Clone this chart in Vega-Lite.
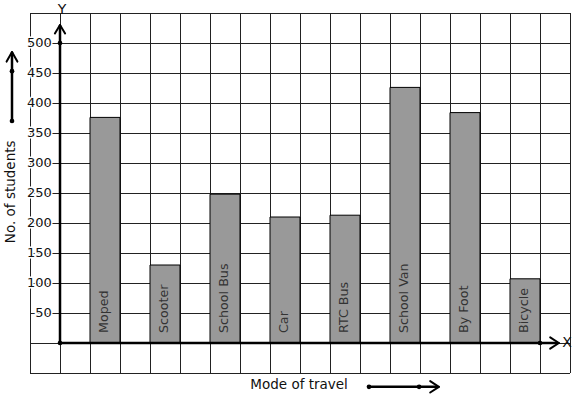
{
  "$schema": "https://vega.github.io/schema/vega-lite/v6.json",
  "width": 540,
  "height": 360,
  "autosize": "none",
  "padding": {"left": 30, "top": 13, "right": 7, "bottom": 26},
  "background": "white",
  "config": {"view": {"stroke": null}, "font": "DejaVu Sans", "text": {"font": "DejaVu Sans"}, "axis": {"disable": true}},
  "datasets": {
    "bars": [
      {"mode": "Moped", "start": 1, "end": 2, "students": 376},
      {"mode": "Scooter", "start": 3, "end": 4, "students": 130},
      {"mode": "School Bus", "start": 5, "end": 6, "students": 248},
      {"mode": "Car", "start": 7, "end": 8, "students": 210},
      {"mode": "RTC Bus", "start": 9, "end": 10, "students": 213},
      {"mode": "School Van", "start": 11, "end": 12, "students": 426},
      {"mode": "By Foot", "start": 13, "end": 14, "students": 384},
      {"mode": "Bicycle", "start": 15, "end": 16, "students": 107}
    ],
    "ticks": [{"v": 50}, {"v": 100}, {"v": 150}, {"v": 200}, {"v": 250}, {"v": 300}, {"v": 350}, {"v": 400}, {"v": 450}, {"v": 500}],
    "gx": [{"g": -1}, {"g": 0}, {"g": 1}, {"g": 2}, {"g": 3}, {"g": 4}, {"g": 5}, {"g": 6}, {"g": 7}, {"g": 8}, {"g": 9}, {"g": 10}, {"g": 11}, {"g": 12}, {"g": 13}, {"g": 14}, {"g": 15}, {"g": 16}, {"g": 17}],
    "gy": [{"g": -50}, {"g": 0}, {"g": 50}, {"g": 100}, {"g": 150}, {"g": 200}, {"g": 250}, {"g": 300}, {"g": 350}, {"g": 400}, {"g": 450}, {"g": 500}, {"g": 550}],
    "one": [{}]
  },
  "layer": [
    {
      "data": {"name": "gx"},
      "mark": {"type": "rule", "color": "#222222", "strokeWidth": 1, "xOffset": 0.5},
      "encoding": {
        "x": {"field": "g", "type": "quantitative", "scale": {"domain": [-1, 17], "nice": false, "zero": false}, "axis": null},
        "y": {"datum": -50, "type": "quantitative", "scale": {"domain": [-50, 550], "nice": false, "zero": false}, "axis": null},
        "y2": {"datum": 550}
      }
    },
    {
      "data": {"name": "gy"},
      "mark": {"type": "rule", "color": "#222222", "strokeWidth": 1, "yOffset": 0.5},
      "encoding": {
        "y": {"field": "g", "type": "quantitative"},
        "x": {"datum": -1, "type": "quantitative"},
        "x2": {"datum": 17}
      }
    },
    {
      "data": {"name": "bars"},
      "mark": {"type": "rect", "fill": "#999999", "stroke": "#000000", "strokeWidth": 1},
      "encoding": {
        "x": {"field": "start", "type": "quantitative"},
        "x2": {"field": "end"},
        "y": {"field": "students", "type": "quantitative"},
        "y2": {"datum": 0}
      }
    },
    {
      "data": {"name": "bars"},
      "mark": {"type": "text", "angle": 270, "align": "left", "baseline": "middle", "xOffset": 14, "yOffset": -10, "fontSize": 12.7, "color": "#333333"},
      "encoding": {
        "x": {"field": "start", "type": "quantitative"},
        "y": {"datum": 0, "type": "quantitative"},
        "text": {"field": "mode"}
      }
    },
    {
      "data": {"name": "ticks"},
      "mark": {"type": "text", "align": "right", "baseline": "middle", "fontSize": 13, "stroke": "white", "strokeWidth": 3, "color": "white"},
      "encoding": {
        "x": {"datum": -0.27, "type": "quantitative"},
        "y": {"field": "v", "type": "quantitative"},
        "text": {"field": "v"}
      }
    },
    {
      "data": {"name": "ticks"},
      "mark": {"type": "text", "align": "right", "baseline": "middle", "fontSize": 13, "color": "#111111"},
      "encoding": {
        "x": {"datum": -0.27, "type": "quantitative"},
        "y": {"field": "v", "type": "quantitative"},
        "text": {"field": "v"}
      }
    },
    {
      "data": {"name": "one"},
      "mark": {"type": "rule", "color": "black", "strokeWidth": 2.5},
      "encoding": {"x": {"datum": 0, "type": "quantitative"}, "y": {"datum": 0, "type": "quantitative"}, "y2": {"datum": 530}}
    },
    {
      "data": {"name": "one"},
      "mark": {"type": "rule", "color": "black", "strokeWidth": 2.5},
      "encoding": {"x": {"datum": 0, "type": "quantitative"}, "x2": {"datum": 16.6}, "y": {"datum": 0, "type": "quantitative"}}
    },
    {
      "data": {"name": "one"},
      "mark": {"type": "rule", "color": "black", "strokeWidth": 2, "strokeCap": "round"},
      "encoding": {"x": {"datum": 0, "type": "quantitative"}, "y": {"datum": 530, "type": "quantitative"}, "x2": {"datum": -0.17}, "y2": {"datum": 516}}
    },
    {
      "data": {"name": "one"},
      "mark": {"type": "rule", "color": "black", "strokeWidth": 2, "strokeCap": "round"},
      "encoding": {"x": {"datum": 0, "type": "quantitative"}, "y": {"datum": 530, "type": "quantitative"}, "x2": {"datum": 0.17}, "y2": {"datum": 516}}
    },
    {
      "data": {"name": "one"},
      "mark": {"type": "rule", "color": "black", "strokeWidth": 2, "strokeCap": "round"},
      "encoding": {"x": {"datum": 16.63, "type": "quantitative"}, "y": {"datum": 0, "type": "quantitative"}, "x2": {"datum": 16.34}, "y2": {"datum": 9.5}}
    },
    {
      "data": {"name": "one"},
      "mark": {"type": "rule", "color": "black", "strokeWidth": 2, "strokeCap": "round"},
      "encoding": {"x": {"datum": 16.63, "type": "quantitative"}, "y": {"datum": 0, "type": "quantitative"}, "x2": {"datum": 16.34}, "y2": {"datum": -9.5}}
    },
    {
      "data": {"name": "one"},
      "mark": {"type": "point", "shape": "circle", "filled": true, "color": "black", "size": 22, "opacity": 1},
      "encoding": {"x": {"datum": 0, "type": "quantitative"}, "y": {"datum": 0, "type": "quantitative"}}
    },
    {
      "data": {"name": "one"},
      "mark": {"type": "point", "shape": "circle", "filled": true, "color": "black", "size": 22, "opacity": 1},
      "encoding": {"x": {"datum": 0, "type": "quantitative"}, "y": {"datum": 500, "type": "quantitative"}}
    },
    {
      "data": {"name": "one"},
      "mark": {"type": "point", "shape": "circle", "filled": true, "color": "black", "size": 22, "opacity": 1},
      "encoding": {"x": {"datum": 16, "type": "quantitative"}, "y": {"datum": 0, "type": "quantitative"}}
    },
    {
      "data": {"name": "one"},
      "mark": {"type": "text", "fontSize": 14, "color": "#111111", "align": "center", "baseline": "middle"},
      "encoding": {"x": {"datum": 0.07, "type": "quantitative"}, "y": {"datum": 555, "type": "quantitative"}, "text": {"value": "Y"}}
    },
    {
      "data": {"name": "one"},
      "mark": {"type": "text", "fontSize": 14, "color": "#111111", "align": "center", "baseline": "middle"},
      "encoding": {"x": {"datum": 16.9, "type": "quantitative"}, "y": {"datum": 0, "type": "quantitative"}, "text": {"value": "X"}}
    },
    {
      "data": {"name": "one"},
      "mark": {"type": "rule", "color": "black", "strokeWidth": 2.5},
      "encoding": {"x": {"datum": -1.6, "type": "quantitative"}, "y": {"datum": 370, "type": "quantitative"}, "y2": {"datum": 485}}
    },
    {
      "data": {"name": "one"},
      "mark": {"type": "rule", "color": "black", "strokeWidth": 2, "strokeCap": "round"},
      "encoding": {"x": {"datum": -1.6, "type": "quantitative"}, "y": {"datum": 485, "type": "quantitative"}, "x2": {"datum": -1.78}, "y2": {"datum": 469}}
    },
    {
      "data": {"name": "one"},
      "mark": {"type": "rule", "color": "black", "strokeWidth": 2, "strokeCap": "round"},
      "encoding": {"x": {"datum": -1.6, "type": "quantitative"}, "y": {"datum": 485, "type": "quantitative"}, "x2": {"datum": -1.42}, "y2": {"datum": 469}}
    },
    {
      "data": {"name": "one"},
      "mark": {"type": "point", "shape": "circle", "filled": true, "color": "black", "size": 22, "opacity": 1},
      "encoding": {"x": {"datum": -1.6, "type": "quantitative"}, "y": {"datum": 370, "type": "quantitative"}}
    },
    {
      "data": {"name": "one"},
      "mark": {"type": "point", "shape": "circle", "filled": true, "color": "black", "size": 22, "opacity": 1},
      "encoding": {"x": {"datum": -1.6, "type": "quantitative"}, "y": {"datum": 453, "type": "quantitative"}}
    },
    {
      "data": {"name": "one"},
      "mark": {"type": "text", "fontSize": 13.5, "color": "#111111", "angle": 270, "align": "center", "baseline": "middle"},
      "encoding": {"x": {"datum": -1.63, "type": "quantitative"}, "y": {"datum": 252, "type": "quantitative"}, "text": {"value": "No. of students"}}
    },
    {
      "data": {"name": "one"},
      "mark": {"type": "text", "fontSize": 13.5, "color": "#111111", "align": "center", "baseline": "middle"},
      "encoding": {"x": {"datum": 7.97, "type": "quantitative"}, "y": {"datum": -70, "type": "quantitative"}, "text": {"value": "Mode of travel"}}
    },
    {
      "data": {"name": "one"},
      "mark": {"type": "rule", "color": "black", "strokeWidth": 2.5},
      "encoding": {"x": {"datum": 10.3, "type": "quantitative"}, "x2": {"datum": 12.6}, "y": {"datum": -73, "type": "quantitative"}}
    },
    {
      "data": {"name": "one"},
      "mark": {"type": "rule", "color": "black", "strokeWidth": 2, "strokeCap": "round"},
      "encoding": {"x": {"datum": 12.63, "type": "quantitative"}, "y": {"datum": -73, "type": "quantitative"}, "x2": {"datum": 12.34}, "y2": {"datum": -63.5}}
    },
    {
      "data": {"name": "one"},
      "mark": {"type": "rule", "color": "black", "strokeWidth": 2, "strokeCap": "round"},
      "encoding": {"x": {"datum": 12.63, "type": "quantitative"}, "y": {"datum": -73, "type": "quantitative"}, "x2": {"datum": 12.34}, "y2": {"datum": -82.5}}
    },
    {
      "data": {"name": "one"},
      "mark": {"type": "point", "shape": "circle", "filled": true, "color": "black", "size": 22, "opacity": 1},
      "encoding": {"x": {"datum": 10.3, "type": "quantitative"}, "y": {"datum": -73, "type": "quantitative"}}
    },
    {
      "data": {"name": "one"},
      "mark": {"type": "point", "shape": "circle", "filled": true, "color": "black", "size": 22, "opacity": 1},
      "encoding": {"x": {"datum": 11.97, "type": "quantitative"}, "y": {"datum": -73, "type": "quantitative"}}
    }
  ]
}
